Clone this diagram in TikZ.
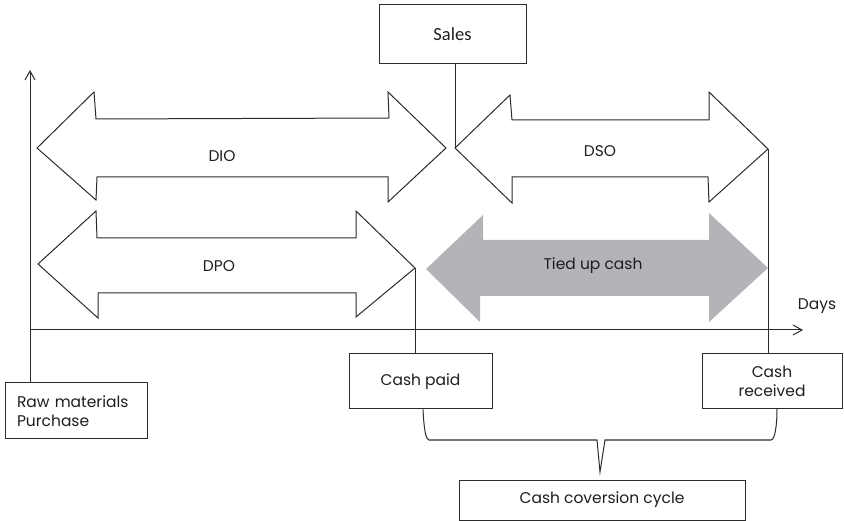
\documentclass[tikz,border=0pt]{standalone}
\usepackage{fontspec}
\setmainfont{Poppins}
\newfontfamily\salesfont{Carlito}
\usetikzlibrary{arrows.meta}
\definecolor{inkline}{HTML}{2B2B2B}
\definecolor{inktext}{HTML}{1E1E1E}
\definecolor{tiedgray}{HTML}{B3B4B7}
\tikzset{
  outline/.style={draw=inkline, line width=1pt, line join=miter},
  labeltext/.style={text=inktext, font=\fontsize{15.5}{18}\selectfont, inner sep=0pt},
  boxnode/.style={draw=inkline, line width=1pt, fill=white, text=inktext,
    font=\fontsize{15.5}{19}\selectfont, inner sep=0pt, align=center},
  axisarrow/.style={draw=inkline, line width=1pt, -{Straight Barb[length=9pt,width=10pt]}},
  link/.style={draw=inkline, line width=1pt},
}
\begin{document}
\begin{tikzpicture}[x=1pt,y=-1pt]
\useasboundingbox (0,0) rectangle (844,521);

% block arrows
\draw[outline] (37,148) -- (94,92) -- (96,119) -- (389,118) -- (388,92) -- (446,148)
  -- (388,202) -- (388,177) -- (97,177) -- (96,200) -- cycle;
\draw[outline] (38,264) -- (96,211) -- (97,238) -- (356,238) -- (356,211) -- (415,268)
  -- (356,317) -- (356,293) -- (98,293) -- (98,318) -- cycle;
\draw[outline] (455,148) -- (510,95) -- (512,120) -- (709,120) -- (709,92) -- (768,149)
  -- (709,202) -- (708,177) -- (512,177) -- (512,203) -- cycle;
\fill[tiedgray] (426,269) -- (483,215) -- (483,240) -- (709,240) -- (709,213) -- (768,268)
  -- (709,322) -- (709,296) -- (480,296) -- (480,322) -- cycle;

% arrow tips used by the connectors
\coordinate (dpotip) at (415,268);
\coordinate (dsotail) at (455,148);
\coordinate (dsotip) at (768,149);

% labels
\node[labeltext] (dio) at (222,156) {DIO};
\node[labeltext] (dso) at (600,151) {DSO};
\node[labeltext] (dpo) at (219,266) {DPO};
\node[labeltext] (tied) at (593,266) {Tied up cash};
\node[labeltext] (days) at (817,306) {Days};

% boxes
\node[boxnode, minimum width=147pt, minimum height=59pt, font=\salesfont\fontsize{18.5}{22}\selectfont] (sales) at (452.5,34.5) {Sales};
\node[boxnode, minimum width=142pt, minimum height=56pt, text width=118pt, align=left, inner xsep=12pt] (raw) at (76,411) {Raw materials\\Purchase};
\node[boxnode, minimum width=143pt, minimum height=55pt] (paid) at (420.5,381.5) {Cash paid};
\node[boxnode, minimum width=140pt, minimum height=55pt] (received) at (772,381.5) {Cash\\received};
\node[boxnode, minimum width=286pt, minimum height=40pt] (ccc) at (602,500) {Cash coversion cycle};

% axes
\coordinate (ytop) at (30,70);
\coordinate (origin) at (30,330);
\coordinate (xend) at (803,330);
\draw[axisarrow] (ytop |- raw.north) -- (ytop);
\draw[axisarrow] (origin) -- (xend);

% connectors
\draw[link] (dsotail |- sales.south) -- (dsotail);
\draw[link] (dpotip) -- (dpotip |- paid.north);
\draw[link] (dsotip) -- (dsotip |- received.north);

% brace under the cash boxes
\coordinate (bracetip) at (600,472);
\draw[link, line join=miter] ([xshift=2.5pt]paid.south) .. controls (424,430) and (426,440) .. (429,440)
  -- (597,440) -- (bracetip) -- (605,440) -- (771,440)
  .. controls (775,440) and (777,425) .. (777,409);
\end{tikzpicture}
\end{document}
